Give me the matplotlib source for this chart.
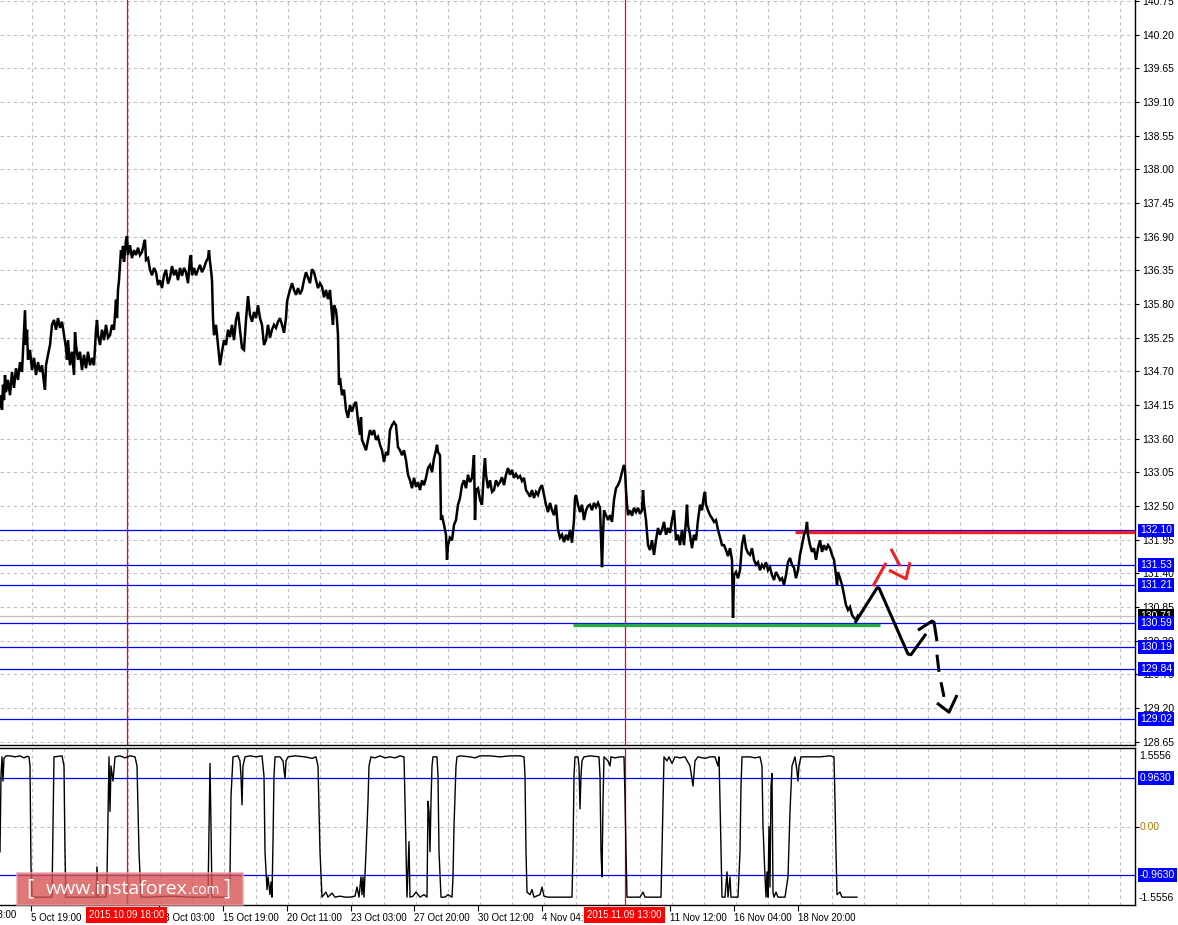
import matplotlib
matplotlib.use('Agg')
import matplotlib.pyplot as plt
import matplotlib.transforms as mtransforms
from matplotlib.patches import FancyBboxPatch

# ---------------- data ----------------
price_bars = [0,1,2,3,4,5,6,8,10,12,14,16,18,20,22,24,25,26,27,28,30,32,34,36,38,40,42,44,45,46,48,50,52,54,56,58,60,62,64,66,67,68,70,72,74,75,76,78,80,82,84,86,88,90,92,94,96,97,98,100,102,104,106,108,110,112,114,116,117,118,119,120,121,122,123,124,125,126,127,128,130,132,134,136,138,140,142,144,145,146,148,150,152,154,156,158,160,162,164,166,168,170,172,174,176,178,180,182,184,186,188,190,191,192,194,196,198,200,202,204,206,208,209,210,211,212,213,214,216,218,220,222,224,226,228,230,232,234,236,238,240,242,244,246,248,249,250,252,254,256,258,260,262,264,266,268,270,272,274,276,278,280,282,284,286,287,288,290,292,294,296,298,300,302,304,306,308,310,312,314,316,318,320,322,324,326,328,330,332,333,334,336,337,338,339,340,342,344,346,348,350,352,354,356,358,360,361,362,364,366,368,370,372,374,376,378,380,382,384,386,388,390,392,394,396,398,400,402,404,406,408,410,412,414,416,418,420,422,424,426,428,430,432,434,436,437,438,440,441,442,444,446,447,448,450,452,454,456,458,460,462,464,466,468,470,472,474,475,476,478,480,482,484,485,486,488,490,492,494,496,498,500,502,504,506,508,510,512,514,516,518,520,522,524,526,528,530,532,534,536,538,540,542,544,546,548,550,552,554,556,558,560,562,564,566,568,570,572,574,575,576,578,580,582,584,586,588,590,592,594,596,598,600,602,603,604,606,608,610,612,614,616,618,620,622,623,624,625,626,627,628,630,632,634,636,638,640,642,643,644,646,648,650,652,654,656,658,660,662,664,666,668,670,672,674,676,678,680,682,684,686,687,688,690,692,694,696,698,700,702,704,705,706,708,710,712,714,716,718,720,722,724,726,728,730,732,733,734,736,738,740,742,744,746,748,750,752,754,756,758,760,762,764,766,768,770,772,774,776,778,780,782,784,786,788,790,792,794,796,798,800,802,804,806,807,808,810,812,814,816,818,820,822,824,826,828,830,832,834,836,837,838,840,842,844,846,848,850,852,854,856,858]
price_vals = [134.12,134.31,134.07,134.48,134.23,134.64,134.36,134.56,134.31,134.69,134.43,134.75,134.56,134.85,134.69,135.38,135.70,135.13,135.38,134.89,135.05,134.72,134.92,134.64,134.85,134.69,134.80,134.51,134.40,134.80,134.97,135.13,135.46,135.54,135.38,135.57,135.41,135.51,135.29,135.08,134.89,135.21,134.80,135.02,134.64,135.34,135.13,134.89,135.02,134.72,134.97,134.75,135.02,134.80,134.92,134.80,135.38,135.54,135.29,135.13,135.38,135.21,135.46,135.25,135.29,135.46,135.38,135.87,135.57,136.03,136.19,136.44,136.68,136.55,136.75,136.49,136.65,136.85,136.91,136.60,136.76,136.55,136.68,136.60,136.72,136.60,136.65,136.80,136.85,136.52,136.55,136.36,136.27,136.39,136.32,136.11,136.19,136.06,136.27,136.36,136.13,136.23,136.42,136.27,136.36,136.19,136.39,136.26,136.39,136.32,136.14,136.55,136.60,136.27,136.39,136.27,136.36,136.44,136.32,136.39,136.49,136.55,136.68,136.49,136.36,136.19,135.57,135.29,135.46,135.13,134.80,135.02,135.21,135.13,135.38,135.26,135.46,135.21,135.54,135.67,135.38,135.08,135.05,135.54,135.93,135.78,135.62,135.51,135.67,135.57,135.78,135.57,135.46,135.13,135.21,135.46,135.25,135.38,135.46,135.41,135.51,135.57,135.46,135.33,135.57,135.83,135.91,136.03,136.14,136.03,135.95,136.06,135.96,136.03,136.19,136.32,136.23,136.14,136.37,136.32,136.19,136.06,136.14,136.08,135.91,136.03,135.88,136.03,135.62,135.46,135.78,135.70,135.54,135.29,134.48,134.59,134.31,134.40,134.07,133.94,134.15,134.04,134.15,134.20,133.90,133.66,133.95,133.58,133.50,133.41,133.58,133.74,133.66,133.74,133.58,133.63,133.50,133.41,133.22,133.38,133.33,133.74,133.82,133.87,133.82,133.46,133.41,133.33,133.41,133.25,133.01,132.92,132.79,132.96,132.81,132.89,132.76,132.92,132.84,132.96,133.12,133.17,133.05,133.28,133.41,133.50,133.38,133.33,132.27,132.35,132.19,132.03,131.62,131.86,131.98,131.94,132.19,132.27,132.52,132.63,132.84,132.92,132.79,133.01,132.89,132.96,133.33,132.27,132.76,132.79,132.60,132.52,133.09,133.28,133.01,132.79,132.92,132.73,132.76,132.92,132.84,132.89,132.97,132.84,133.01,133.12,133.01,133.09,132.96,133.02,132.96,132.99,132.91,132.96,132.76,132.71,132.65,132.76,132.63,132.73,132.68,132.79,132.84,132.68,132.52,132.40,132.55,132.43,132.35,132.52,132.11,131.98,132.03,131.91,132.03,131.94,132.11,131.90,132.27,132.63,132.68,132.52,132.40,132.52,132.27,132.43,132.50,132.52,132.43,132.55,132.48,132.55,132.47,131.50,132.03,132.43,132.35,132.27,132.35,132.24,132.60,132.79,132.84,132.92,133.05,133.12,133.17,133.09,132.76,132.52,132.35,132.43,132.34,132.47,132.40,132.47,132.37,132.43,132.76,132.52,132.27,131.86,131.78,131.94,131.70,131.94,132.14,132.03,132.11,132.24,132.03,132.14,132.06,132.27,132.43,131.94,132.03,131.86,132.11,131.86,132.27,132.52,132.19,132.03,131.81,132.03,131.94,132.27,132.52,132.43,132.68,132.73,132.52,132.43,132.35,132.30,132.24,132.27,132.11,131.99,131.86,131.86,131.78,131.68,131.81,131.62,130.67,131.37,131.42,131.32,131.45,131.86,132.03,131.81,131.73,131.70,131.81,131.62,131.54,131.58,131.45,131.54,131.49,131.58,131.45,131.50,131.37,131.29,131.42,131.36,131.29,131.32,131.21,131.37,131.58,131.65,131.54,131.49,131.32,131.45,131.70,131.86,132.03,132.11,132.24,132.03,131.86,131.75,131.81,131.62,131.81,131.94,131.75,131.86,131.78,131.86,131.81,131.70,131.62,131.37,131.21,131.42,131.32,131.21,131.05,130.88,130.80,130.85,130.72,130.67,130.64,130.71]

ind_bars = [0,1,2,3,4,6,10,15,20,24,27,29,30,31,32,52,53,54,62,64,65,66,96,97,98,106,107,109,110,111,113,115,120,125,130,135,137,139,141,150,170,190,208,209,210,211,212,229,230,231,233,238,240,241,242,243,245,250,256,262,264,265,267,268,270,271,272,273,274,275,280,283,285,286,288,295,305,312,316,318,320,322,326,328,332,335,340,345,350,355,357,359,361,362,363,364,366,368,369,371,375,380,385,390,395,400,404,405,407,409,410,413,416,420,424,427,428,429,430,431,432,433,437,438,439,441,445,448,452,453,454,456,457,460,470,475,480,490,500,510,520,524,525,526,527,530,532,534,540,542,544,548,555,565,572,573,574,575,578,579,580,581,582,584,590,599,600,601,602,603,604,608,610,611,615,620,624,625,626,627,632,640,643,645,655,661,662,663,664,667,669,672,675,680,685,690,693,695,698,705,710,715,718,719,720,721,722,725,727,728,730,731,738,740,741,742,750,755,760,762,763,765,766,767,768,769,770,771,772,773,774,776,778,785,788,790,792,795,797,798,799,801,810,820,830,834,835,836,837,840,842,848,857]
ind_vals = [-0.5,1.0,1.38,0.9,1.35,1.40,1.40,1.38,1.40,1.36,1.39,1.38,1.2,-0.8,-1.40,-1.40,0.0,1.38,1.40,1.2,-0.5,-1.40,-1.40,-0.8,-1.40,-1.40,-1.0,1.38,0.3,1.2,0.9,1.38,1.40,1.36,1.40,1.38,1.2,-0.5,-1.40,-1.40,-1.38,-1.40,-1.40,0.0,1.25,0.0,-1.40,-1.40,-1.0,0.6,1.38,1.40,1.30,1.0,0.43,1.2,1.38,1.40,1.38,1.40,1.0,-0.5,-1.25,-1.0,-1.35,-1.1,-1.40,-0.3,1.0,1.38,1.38,1.30,0.95,1.30,1.38,1.40,1.38,1.35,1.38,1.2,-0.5,-1.40,-1.30,-1.40,-1.32,-1.40,-1.38,-1.40,-1.40,-1.38,-1.20,-1.40,-1.0,-1.35,-1.0,-1.40,-0.5,0.5,1.2,1.38,1.36,1.40,1.36,1.38,1.36,1.40,1.38,0.5,-1.40,-0.3,-1.40,-1.38,-1.30,-1.40,-1.35,-1.40,0.5,0.3,-0.5,0.5,1.2,1.38,1.38,1.0,-0.5,-1.40,-1.40,-1.35,-1.40,-1.0,0.0,1.2,1.38,1.40,1.38,1.36,1.40,1.40,1.38,1.40,1.40,1.38,1.0,-0.5,-1.30,-1.35,-1.25,-1.40,-1.35,-1.20,-1.38,-1.40,-1.40,-1.40,-1.40,-0.5,1.0,1.38,1.38,1.20,0.35,1.0,1.30,1.38,1.40,1.38,1.0,-0.5,-1.0,0.5,1.38,1.30,1.20,1.38,1.36,1.38,1.38,0.6,-0.5,-1.40,-1.40,-1.40,-1.30,-1.40,-1.40,-1.40,-0.5,0.5,1.38,1.30,1.38,1.25,1.38,1.36,1.38,1.20,0.80,1.30,1.38,1.35,1.38,1.38,1.20,1.38,0.5,-0.5,-1.40,-1.40,-0.9,-1.40,-1.0,-1.40,-1.40,-0.5,0.8,1.38,1.38,1.36,1.38,1.2,0.0,-1.0,-1.40,-0.9,-1.40,0.0,-1.2,0.8,1.05,-1.3,-1.40,-1.30,-1.40,-1.40,-1.0,0.3,1.20,1.38,1.1,0.9,1.2,1.38,1.38,1.38,1.40,1.38,0.5,-0.5,-1.35,-1.30,-1.40,-1.40,-1.40]

price_ticks = [128.65,129.20,129.75,130.30,130.85,131.40,131.95,132.50,133.05,133.60,134.15,134.70,135.25,135.80,136.35,136.90,137.45,138.00,138.55,139.10,139.65,140.20,140.75]
blue_levels = [132.10,131.53,131.21,130.59,130.19,129.84,129.02]
current_price = 130.71
resistance = (795, 1135, 132.08)
support = (573, 880, 130.56)
marker_bars = [126.5, 624.5]
marker_labels = ['2015.10.09 18:00', '2015.11.09 13:00']
time_bars = [31, 159, 223, 287, 351, 414, 478, 542, 670, 734, 798]
time_labels = ['5 Oct 19:00', '13 Oct 03:00', '15 Oct 19:00', '20 Oct 11:00',
               '23 Oct 03:00', '27 Oct 20:00', '30 Oct 12:00', '4 Nov 04:00',
               '11 Nov 12:00', '16 Nov 04:00', '18 Nov 20:00']
first_time = (-34, '1 Oct 03:00')
ind_levels = [0.9630, -0.9630]
ind_range = 1.5556

# forecast drawing strokes (bar, price)
black_solid = [
    ([855, 877, 879, 908, 911, 926], [130.59, 131.16, 131.16, 130.08, 130.07, 130.41]),
    ([918, 932, 934, 937], [130.47, 130.62, 130.60, 130.29]),
]
black_dash = [
    ([937, 939], [130.07, 129.79]),
    ([941, 944], [129.62, 129.38]),
    ([937, 949, 957], [129.28, 129.13, 129.41]),
]
red_strokes = [
    ([873, 886], [131.19, 131.57]),
    ([891, 900], [131.80, 131.52]),
    ([889, 906, 910], [131.45, 131.31, 131.58]),
]

# ---------------- figure ----------------
W, H, DPI = 1178, 925, 100
plt.rcParams['font.family'] = ['Liberation Sans', 'DejaVu Sans']
fig = plt.figure(figsize=(W / DPI, H / DPI), dpi=DPI)
fig.patch.set_facecolor('white')

AX_R = 1135
ax = fig.add_axes([0, 1 - 745 / H, AX_R / W, 745 / H])
ax2 = fig.add_axes([0, 1 - 905 / H, AX_R / W, 157 / H])

ax.set_xlim(0, AX_R)
ax.set_ylim(128.594, 140.768)
ax2.set_xlim(0, AX_R)
ax2.set_ylim(-ind_range, ind_range)

for a in (ax, ax2):
    a.set_facecolor('white')
    a.spines['left'].set_visible(False)
    for s in ('right', 'bottom', 'top'):
        a.spines[s].set_color('black')
        a.spines[s].set_linewidth(1.0)
ax.spines['top'].set_visible(False)

grid_kw = dict(color='#c0c0c0', lw=0.8, linestyle=(0, (3, 3)), zorder=0)
gx = [31.5 + 32 * k for k in range(35)]
for x in gx:
    ax.axvline(x, **grid_kw)
    ax2.axvline(x, **grid_kw)
for p in price_ticks:
    ax.axhline(p, **grid_kw)
ax2.axhline(0, **grid_kw)

# price ticks on right
ax.yaxis.tick_right()
ax.set_yticks(price_ticks)
ax.set_yticklabels(['%.2f' % p for p in price_ticks])
ax.tick_params(axis='y', direction='out', length=3, width=0.8, pad=2, labelsize=7.5, colors='black')
ax.set_xticks([])

# level lines
for lv in blue_levels:
    ax.axhline(lv, color='#0000ff', lw=0.9, zorder=2)
ax.axhline(current_price, color='#c0c0c0', lw=0.9, zorder=1.5)
ax.hlines(resistance[2], resistance[0], resistance[1], color='#ee2222', lw=2.4, zorder=3)
ax.hlines(support[2], support[0], support[1], color='#2aa84a', lw=2.4, zorder=3)

for mb in marker_bars:
    ax.axvline(mb, color='#ff0000', lw=0.9, zorder=2)
    ax2.axvline(mb, color='#ff0000', lw=0.9, zorder=2)

# price series
ax.plot(price_bars, price_vals, color='black', lw=1.8, zorder=4, solid_joinstyle='miter')

# forecast strokes
for xs, ys in black_solid:
    ax.plot(xs, ys, color='black', lw=2.2, zorder=5, solid_capstyle='butt')
for xs, ys in black_dash:
    ax.plot(xs, ys, color='black', lw=2.2, zorder=5, solid_capstyle='butt')
for xs, ys in red_strokes:
    ax.plot(xs, ys, color='#ee2222', lw=2.2, zorder=5, solid_capstyle='butt')

# right label boxes
bt = mtransforms.blended_transform_factory(ax.transAxes, ax.transData)
xoff = 1 + 5 / AX_R
box_kw = dict(boxstyle='square,pad=0.18')
ax.text(xoff, current_price, '%.2f' % current_price, transform=bt, ha='left', va='center',
        fontsize=7.5, color='white', clip_on=False, zorder=9,
        bbox=dict(fc='black', ec='none', **box_kw))
for lv in blue_levels:
    ax.text(xoff, lv, '%.2f' % lv, transform=bt, ha='left', va='center', fontsize=7.5,
            color='white', clip_on=False, zorder=10,
            bbox=dict(fc='#0000ff', ec='none', **box_kw))

# indicator
ax2.plot(ind_bars, ind_vals, color='black', lw=1.0, zorder=4)
for lv in ind_levels:
    ax2.axhline(lv, color='#0000ff', lw=0.9, zorder=2)
bt2 = mtransforms.blended_transform_factory(ax2.transAxes, ax2.transData)
ax2.text(xoff - 1 / AX_R, ind_range - 0.16, '%.4f' % ind_range, transform=bt2, ha='left', va='center',
         fontsize=7.5, color='black', clip_on=False)
ax2.text(xoff - 1 / AX_R, -ind_range + 0.14, '%.4f' % -ind_range, transform=bt2, ha='left', va='center',
         fontsize=7.5, color='black', clip_on=False)
ax2.text(xoff, 0, '0.00', transform=bt2, ha='left', va='center', fontsize=7.5,
         color='#b07800', clip_on=False)
for lv in ind_levels:
    ax2.text(xoff, lv, '%.4f' % lv, transform=bt2, ha='left', va='center', fontsize=7.5,
             color='white', clip_on=False, zorder=10,
             bbox=dict(fc='#0000ff', ec='none', **box_kw))
ax2.yaxis.tick_right()
ax2.set_yticks([0])
ax2.set_yticklabels([''])
ax2.tick_params(axis='y', direction='out', length=3, width=0.8)

# time axis
ax2.set_xticks(time_bars)
ax2.set_xticklabels(time_labels)
for lbl in ax2.get_xticklabels():
    lbl.set_ha('left')
ax2.tick_params(axis='x', direction='out', length=4, width=0.8, pad=2, labelsize=7, colors='black')
bx = mtransforms.blended_transform_factory(ax2.transData, ax2.transAxes)
ax2.text(first_time[0], -0.066, first_time[1], transform=bx, ha='left', va='center',
         fontsize=7, clip_on=False)
for mb, ml in zip(marker_bars, marker_labels):
    ax2.text(mb, -0.066, ml, transform=bx, ha='center', va='center', fontsize=7,
             color='white', clip_on=False, zorder=10,
             bbox=dict(boxstyle='square,pad=0.3', fc='#ff0000', ec='none'))

# watermark logo
lx0, ly0, lw_, lh_ = 17, 873, 226, 32
logo = FancyBboxPatch((lx0 / W, 1 - (ly0 + lh_) / H), lw_ / W, lh_ / H,
                      boxstyle='square,pad=0', transform=fig.transFigure,
                      fc='#d85555', ec='#eaa0a0', lw=1.2, alpha=0.8, zorder=20)
fig.add_artist(logo)
ty = 1 - 889 / H
fig.text(26 / W, ty, '[', fontsize=16, color='white', ha='left', va='center',
         family=['Open Sans', 'DejaVu Sans'], zorder=21)
t1 = fig.text(46 / W, ty, 'www.instaforex', fontsize=14, color='white', ha='left',
              va='center', family=['Open Sans', 'DejaVu Sans'], zorder=21)
fig.canvas.draw()
bb = t1.get_window_extent()
t2 = fig.text(bb.x1 / W, ty - 1.5 / H, '.com', fontsize=10, color='white', ha='left',
              va='center', family=['Open Sans', 'DejaVu Sans'], zorder=21)
fig.canvas.draw()
bb2 = t2.get_window_extent()
fig.text((bb2.x1 + 4) / W, ty, ']', fontsize=16, color='white', ha='left', va='center',
         family=['Open Sans', 'DejaVu Sans'], zorder=21)

fig.savefig('out.png', dpi=DPI, facecolor='white')
